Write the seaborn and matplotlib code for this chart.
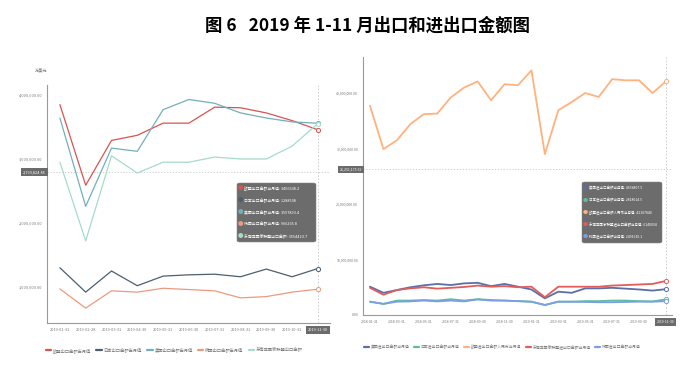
import matplotlib
matplotlib.use('Agg')
import matplotlib.pyplot as plt
import seaborn as sns
import pandas as pd
from matplotlib.patches import FancyBboxPatch
from matplotlib.ticker import FuncFormatter

sns.set_style('white')
plt.rcParams['font.family'] = ['Noto Sans CJK SC', 'DejaVu Sans']
plt.rcParams['axes.unicode_minus'] = False

title = '图 6   2019 年 1-11 月出口和进出口金额图'

# 左图：出口金额（万美元）
left_dates = ['2019-01-31', '2019-02-28', '2019-03-31', '2019-04-30', '2019-05-31', '2019-06-30',
              '2019-07-31', '2019-08-31', '2019-09-30', '2019-10-31', '2019-11-30']
left_names = ['欧盟出口金额当月值', '日本出口金额当月值', '美国出口金额当月值',
              '韩国出口金额当月值', '东南亚国家联盟出口金额']
eu_export = [3850000, 2590000, 3290000, 3370000, 3560000, 3560000, 3810000, 3800000, 3720000, 3600000, 3456638.2]
jp_export = [1300000, 920000, 1250000, 1020000, 1170000, 1190000, 1200000, 1160000, 1280000, 1160000, 1288538]
us_export = [3640000, 2260000, 3170000, 3120000, 3770000, 3930000, 3870000, 3720000, 3640000, 3580000, 3557893.4]
kr_export = [970000, 670000, 940000, 920000, 980000, 960000, 940000, 830000, 850000, 920000, 966265.8]
asean_export = [2950000, 1720000, 3050000, 2780000, 2950000, 2950000, 3030000, 3000000, 3000000, 3200000, 3554423.7]
left_colors = ['#d9534f', '#4a5f70', '#72afbd', '#eb9a7f', '#a5dcc6']
left_yticks = [1000000, 2000000, 3000000, 4000000]
left_pointer = 2793824.85

# 右图：进出口金额
right_dates = ['2018-01-31', '2018-02-28', '2018-03-31', '2018-04-30', '2018-05-31', '2018-06-30',
               '2018-07-31', '2018-08-31', '2018-09-30', '2018-10-31', '2018-11-30', '2018-12-31',
               '2019-01-31', '2019-02-28', '2019-03-31', '2019-04-30', '2019-05-31', '2019-06-30',
               '2019-07-31', '2019-08-31', '2019-09-30', '2019-10-31', '2019-11-30']
right_names = ['美国进出口金额当月值', '日本进出口金额当月值', '欧盟进出口金额人民币当月值',
               '东南亚国家联盟进出口金额当月值', '韩国进出口金额当月值']
us_trade = [5100000, 4000000, 4500000, 5000000, 5350000, 5600000, 5400000, 5700000, 5800000, 5200000,
            5600000, 5100000, 4600000, 3000000, 4200000, 4000000, 4800000, 4800000, 4900000, 4750000,
            4600000, 4400000, 4654807.5]
jp_trade = [2400000, 2000000, 2600000, 2600000, 2700000, 2600000, 2850000, 2600000, 2850000, 2700000,
            2600000, 2500000, 2400000, 1800000, 2400000, 2400000, 2500000, 2500000, 2600000, 2600000,
            2500000, 2450000, 2818014.5]
eu_trade_rmb = [37700000, 29900000, 31500000, 34400000, 36200000, 36300000, 39200000, 41000000,
                42100000, 38700000, 41600000, 41400000, 44100000, 29000000, 36900000, 38400000,
                40000000, 39300000, 42500000, 42300000, 42300000, 40000000, 42107840]
asean_trade = [4900000, 3650000, 4500000, 4800000, 5000000, 4750000, 4900000, 5050000, 5300000, 5100000,
               5200000, 5000000, 5100000, 3200000, 5100000, 5100000, 5100000, 5100000, 5300000, 5400000,
               5500000, 5600000, 6140034]
kr_trade = [2400000, 2000000, 2400000, 2450000, 2600000, 2450000, 2600000, 2450000, 2800000, 2600000,
            2600000, 2500000, 2400000, 1800000, 2400000, 2400000, 2350000, 2300000, 2300000, 2350000,
            2400000, 2400000, 2491610.1]
right_colors = ['#5b6ea8', '#5bbf9f', '#ffb27d', '#e25c5c', '#7e9de6']
right_yticks = [0, 10000000, 20000000, 30000000, 40000000]
right_pointer = 26251175.69

W, H = 691, 370


def to_long(dates, names, series):
    rows = []
    for name, vals in zip(names, series):
        for i, v in enumerate(vals):
            rows.append({'idx': i, 'date': dates[i], 'name': name, 'value': v})
    return pd.DataFrame(rows)


def px(x0, y0, x1, y1):
    # pixel box -> figure fraction [left, bottom, width, height]
    return [x0 / W, 1 - y1 / H, (x1 - x0) / W, (y1 - y0) / H]


def style_axis(ax, fs):
    sns.despine(ax=ax)
    for s in ['left', 'bottom']:
        ax.spines[s].set_color('#9a9a9a')
        ax.spines[s].set_linewidth(0.8)
    ax.tick_params(axis='both', length=2, width=0.5, color='#9a9a9a',
                   labelsize=fs, labelcolor='#777777', pad=1.5)
    ax.yaxis.set_major_formatter(FuncFormatter(lambda v, p: f'{v:,.2f}'))
    ax.set_xlabel('')
    ax.set_ylabel('')


def draw_tooltip(fig, box, names, series, colors, fs):
    x0, y0, x1, y1 = box
    fig.add_artist(FancyBboxPatch((x0 / W, 1 - y1 / H), (x1 - x0) / W, (y1 - y0) / H,
                                  boxstyle='round,pad=0,rounding_size=0.004',
                                  transform=fig.transFigure, fc='#5f5f5f', ec='#888888',
                                  lw=0.4, alpha=0.92))
    step = (y1 - y0) / len(names)
    for i, (name, vals, c) in enumerate(zip(names, series, colors)):
        yy = 1 - (y0 + step * (i + 0.5)) / H
        fig.text((x0 + 3.5) / W, yy, '●', color=c, fontsize=fs + 1.2, ha='center', va='center')
        fig.text((x0 + 7) / W, yy, f'{name}: {vals[-1]:.10g}', color='white',
                 fontsize=fs, ha='left', va='center')


def draw_panel(fig, rect, dates, names, series, colors, lw, step, yticks, ylim, xlim,
               pointer, fs, tip_box, legend_pos):
    ax = fig.add_axes(rect)
    df = to_long(dates, names, series)
    sns.lineplot(data=df, x='idx', y='value', hue='name', hue_order=names,
                 palette=dict(zip(names, colors)), linewidth=lw, ax=ax)
    handles, labels = ax.get_legend_handles_labels()
    ax.get_legend().remove()

    last = len(dates) - 1
    for vals, c in zip(series, colors):
        ax.scatter([last], [vals[-1]], s=9, facecolor='white', edgecolor=c, linewidth=0.7, zorder=5)

    ax.axvline(last, color='#c8c8c8', lw=0.6, ls=(0, (2, 2)), zorder=0)
    ax.axhline(pointer, color='#c8c8c8', lw=0.6, ls=(0, (1.5, 2)), zorder=0)

    ax.set_xlim(*xlim)
    ax.set_ylim(*ylim)
    ticks = list(range(0, len(dates), step))
    ax.set_xticks(ticks)
    ax.set_xticklabels([dates[i] for i in ticks])
    ax.set_yticks(yticks)
    style_axis(ax, fs)

    lbl = ax.get_xticklabels()[-1]
    lbl.set_color('white')
    lbl.set_bbox(dict(boxstyle='square,pad=0.5', fc='#6b6b6b', ec='none'))

    ax.text(-0.004, pointer, f'{pointer:,.2f}', transform=ax.get_yaxis_transform(),
            ha='right', va='center', fontsize=fs, color='white',
            bbox=dict(boxstyle='square,pad=0.5', fc='#6b6b6b', ec='none'))

    draw_tooltip(fig, tip_box, names, series, colors, fs)

    leg = fig.legend(handles, labels, loc='center', bbox_to_anchor=legend_pos, ncol=5,
                     frameon=False, fontsize=fs + 0.3, handlelength=1.3, handletextpad=0.4,
                     columnspacing=1.2, labelcolor='#777777')
    for h in leg.get_lines():
        h.set_linewidth(1.6)
    return ax


fig = plt.figure(figsize=(W / 100, H / 100), dpi=100)
fig.text(0.532, 0.932, title, ha='center', va='center', fontsize=12.5, fontweight='heavy',
         color='black')

ax_l = draw_panel(fig, px(47, 85, 330, 323), left_dates, left_names,
                  [eu_export, jp_export, us_export, kr_export, asean_export],
                  left_colors, 0.9, 1, left_yticks, (437500, 4156000), (-0.5, 10.47),
                  left_pointer, 2.8, (237, 183, 316, 242), (0.252, 0.054))
ax_l.text(0.0, 1.05, '万美元', transform=ax_l.transAxes, ha='right', va='bottom',
          fontsize=3.0, color='#777777')

draw_panel(fig, px(363, 57, 672, 315), right_dates, right_names,
           [us_trade, jp_trade, eu_trade_rmb, asean_trade, kr_trade],
           right_colors, 1.3, 2, right_yticks, (0, 46500000), (-0.52, 22.45),
           right_pointer, 2.5, (582, 182, 662, 243), (0.727, 0.062))

fig.savefig('out.png', dpi=100)
